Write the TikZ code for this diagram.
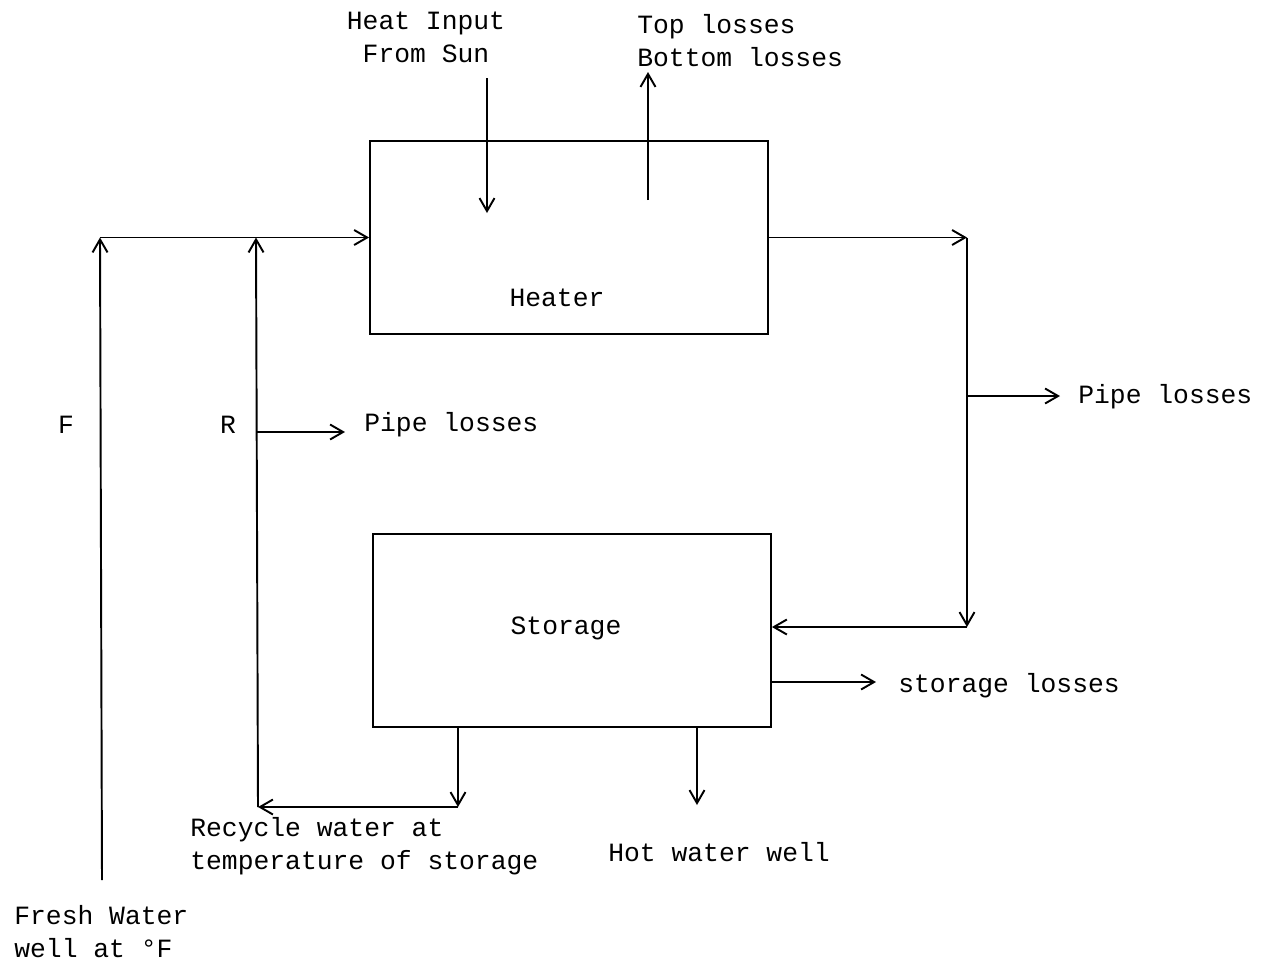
\documentclass[tikz,border=0pt]{standalone}
\usepackage{fontspec}
\setmonofont{Liberation Mono}
\usetikzlibrary{arrows.meta,positioning}

\begin{document}
\begin{tikzpicture}[x=0.02cm, y=-0.02cm,
  every node/.style={font=\ttfamily\fontsize{15}{18.7}\selectfont},
  txt/.style={inner sep=0pt, align=left},
  unit/.style={draw, line width=1.1pt, minimum width=7.96cm,
               minimum height=3.86cm, inner sep=0pt},
  flow/.style={line width=1.1pt, -{Straight Barb[length=2.6mm, width=3mm]}},
  pipe/.style={line width=1.1pt}
]
\useasboundingbox (0,0) rectangle (1268,965);

\node[unit] (heater)  at (569,237.5) {};
\node[txt]  (heaterlbl) at (557,298) {Heater};
\node[unit] (storage) at (572,630.5) {};
\node[txt]  (storagelbl) at (566,628) {Storage};

\node[txt, align=center, anchor=north] (sunlbl) at (426,12) {Heat Input\\From Sun};
\node[txt, anchor=north west] (toplbl) at (637,14) {Top losses\\Bottom losses};
\node[txt] (flbl) at (66,425) {F};
\node[txt] (rlbl) at (228,425) {R};
\node[txt, anchor=west] (plossl) at (364,425) {Pipe losses};
\node[txt, anchor=west] (plossr) at (1078,397) {Pipe losses};
\node[txt, anchor=west] (slosslbl) at (898,686) {storage losses};
\node[txt, anchor=north west] (recyclbl) at (190,817) {Recycle water at\\temperature of storage};
\node[txt, anchor=west] (hotlbl) at (608,852) {Hot water well};
\node[txt, anchor=north west] (freshlbl) at (14,905) {Fresh Water\\well at °F};

\coordinate (sun)    at (487,78);
\coordinate (sunend) at (487,213);
\coordinate (topbeg) at (648,200);
\coordinate (topend) at (648,72);
\coordinate (fbot)   at (102,880);
\coordinate (ftop)   at (100,237.5);
\coordinate (rtop)   at (256,237.5);
\coordinate (rbot)   at (258,807);
\coordinate (rloss)  at (257,432);
\coordinate (recyc)  at (458,807);
\coordinate (hout)   at (967,237.5);
\coordinate (ploss)  at (967,396);
\coordinate (scorner) at (967,627);
\coordinate (sloss)  at (770,682);
\coordinate (hot)    at (697,805);

% heater
\draw[flow] (sun) -- (sunend);
\draw[flow] (topbeg) -- (topend);
\draw[flow] (ftop) -- (heater.west);
\draw[flow] (fbot) -- (ftop);
\draw[flow] (rbot) -- (rtop);
\draw[flow] (rloss) -- ([xshift=-0.38cm]plossl.west |- rloss);

% hot side
\draw[flow] (heater.east) -- (hout);
\draw[flow] (hout) -- (scorner);
\draw[flow] (ploss) -- ([xshift=-0.36cm]plossr.west |- ploss);
\draw[flow] (scorner) -- (storage.east |- scorner);
\draw[flow] (sloss) -- ([xshift=-0.44cm]slosslbl.west |- sloss);

% storage out
\draw[flow] (storage.south -| recyc) -- (recyc);
\draw[flow] (recyc) -- (rbot);
\draw[flow] (storage.south -| hot) -- (hot);
\end{tikzpicture}
\end{document}
